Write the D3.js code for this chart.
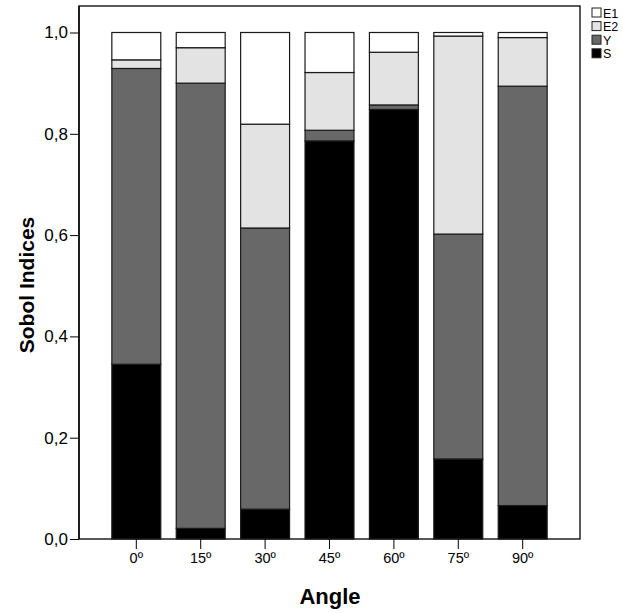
<!DOCTYPE html>
<html>
<head>
<meta charset="utf-8">
<script src="https://cdn.jsdelivr.net/npm/d3@7"></script>
<style>
  body { margin: 0; background: #fff; }
  svg { font-family: 'Liberation Sans', Arial, sans-serif; }
</style>
</head>
<body>
<svg id="svg" width="623" height="613"></svg>
<script>
const angles = ['0º', '15º', '30º', '45º', '60º', '75º', '90º'];
const seriesKeys = ['S', 'Y', 'E2', 'E1'];
// stacked shares
const sVals = [0.345, 0.021, 0.059, 0.786, 0.848, 0.158, 0.066];
const yVals = [0.584, 0.879, 0.555, 0.021, 0.009, 0.444, 0.828];
const e2Vals = [0.017, 0.070, 0.205, 0.114, 0.104, 0.391, 0.096];
const e1Vals = [0.054, 0.030, 0.181, 0.079, 0.039, 0.007, 0.010];
const yTicks = [0, 0.2, 0.4, 0.6, 0.8, 1.0];
const legendOrder = ['E1', 'E2', 'Y', 'S'];
const colors = { S: '#000000', Y: '#686868', E2: '#e3e3e3', E1: '#ffffff' };

const rows = angles.map((a, i) => ({
  angle: a, S: sVals[i], Y: yVals[i], E2: e2Vals[i], E1: e1Vals[i]
}));

const svg = d3.select('#svg');
const plot = { left: 79, right: 580, top: 6, bottom: 539 };

const x = d3.scaleBand()
  .domain(angles)
  .range([plot.left, plot.right])
  .paddingInner(0.24)
  .paddingOuter(0.51);

const y = d3.scaleLinear()
  .domain([0, 1])
  .range([plot.bottom, 32.5]);

// frame
svg.append('rect')
  .attr('x', plot.left).attr('y', plot.top)
  .attr('width', plot.right - plot.left)
  .attr('height', plot.bottom - plot.top)
  .attr('fill', 'none')
  .attr('stroke', '#000')
  .attr('stroke-width', 1.3);

const stack = d3.stack().keys(seriesKeys)(rows);

svg.append('g')
  .selectAll('g')
  .data(stack)
  .enter()
  .append('g')
  .attr('fill', d => colors[d.key])
  .selectAll('rect')
  .data(d => d)
  .enter()
  .append('rect')
  .attr('x', d => x(d.data.angle))
  .attr('width', x.bandwidth())
  .attr('y', d => y(d[1]))
  .attr('height', d => y(d[0]) - y(d[1]))
  .attr('stroke', '#1a1a1a')
  .attr('stroke-width', 1.2);

// axes
const yAxis = svg.append('g')
  .attr('transform', 'translate(' + plot.left + ',0)')
  .call(d3.axisLeft(y).tickValues(yTicks).tickSize(9).tickPadding(2)
    .tickFormat(d => d3.format('.1f')(d).replace('.', ',')));
yAxis.select('.domain').attr('stroke-width', 1.3).attr('d', 'M0,' + plot.top + 'V' + plot.bottom);
yAxis.selectAll('text').attr('font-size', 17).attr('fill', '#000');

const xAxis = svg.append('g')
  .attr('transform', 'translate(0,' + plot.bottom + ')')
  .call(d3.axisBottom(x).tickSize(10).tickPadding(4));
xAxis.select('.domain').remove();
xAxis.selectAll('text').attr('font-size', 14.5).attr('fill', '#000');

// titles
svg.append('text')
  .attr('x', 330).attr('y', 604)
  .attr('text-anchor', 'middle')
  .attr('font-size', 22).attr('font-weight', 'bold')
  .text('Angle');

svg.append('text')
  .attr('transform', 'translate(34,285) rotate(-90)')
  .attr('text-anchor', 'middle')
  .attr('font-size', 21).attr('font-weight', 'bold')
  .text('Sobol Indices');

// legend
const legend = svg.append('g').attr('transform', 'translate(592,8)');
const item = legend.selectAll('g')
  .data(legendOrder)
  .enter()
  .append('g')
  .attr('transform', (d, i) => 'translate(0,' + i * 13.6 + ')');
item.append('rect')
  .attr('width', 9).attr('height', 9)
  .attr('fill', d => colors[d])
  .attr('stroke', '#222').attr('stroke-width', 1);
item.append('text')
  .attr('x', 11).attr('y', 9.5)
  .attr('font-size', 12.5)
  .text(d => d);
</script>
</body>
</html>
